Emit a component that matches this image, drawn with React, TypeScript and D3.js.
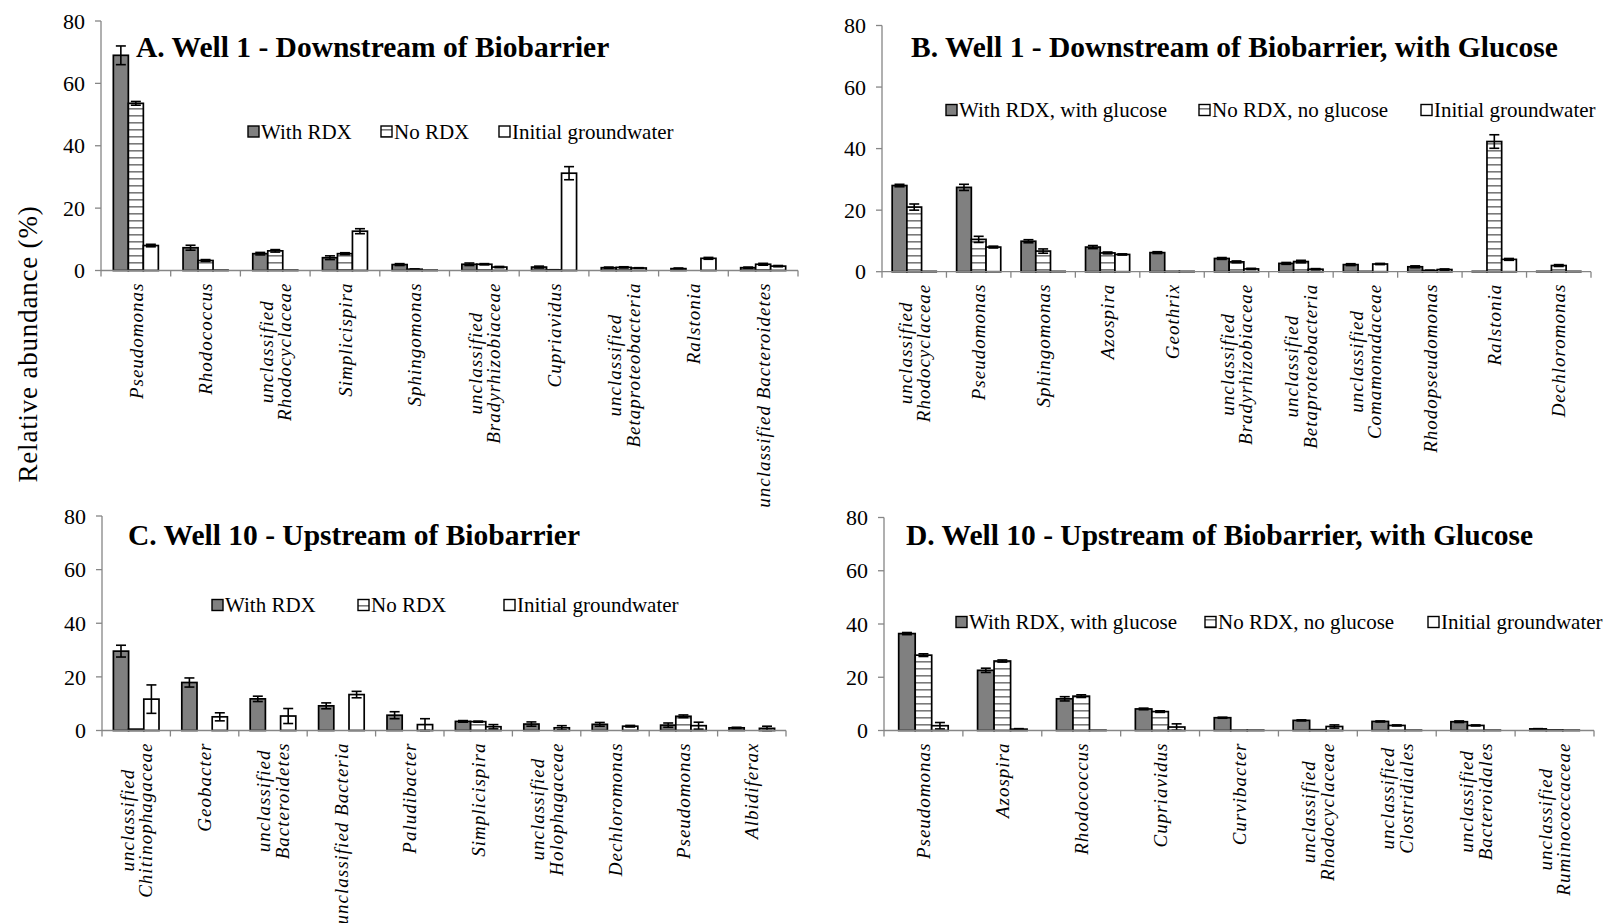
import React, { useEffect, useRef } from "react";
import * as d3 from "d3";

// ---------- DATA ----------
const seriesAC = ["With RDX", "No RDX", "Initial groundwater"];
const seriesBD = ["With RDX, with glucose", "No RDX, no glucose", "Initial groundwater"];

const catsA = [["Pseudomonas"], ["Rhodococcus"], ["unclassified", "Rhodocyclaceae"], ["Simplicispira"], ["Sphingomonas"], ["unclassified", "Bradyrhizobiaceae"], ["Cupriavidus"], ["unclassified", "Betaproteobacteria"], ["Ralstonia"], ["unclassified Bacteroidetes"]];
const withA = [69, 7.3, 5.4, 4.1, 1.9, 2.0, 1.1, 0.9, 0.6, 0.9];
const noA = [53.6, 3.2, 6.3, 5.4, 0.4, 2.0, 0.2, 1.0, 0, 2.0];
const initA = [8.0, 0.1, 0.1, 12.6, 0.1, 1.1, 31.2, 0.8, 3.9, 1.4];
const withErrA = [3, 0.8, 0.4, 0.6, 0.3, 0.4, 0.3, 0.2, 0.2, 0.2];
const noErrA = [0.6, 0.3, 0.4, 0.3, 0.1, 0.2, 0.05, 0.2, 0, 0.3];
const initErrA = [0.4, 0, 0, 0.8, 0, 0.2, 2.1, 0.1, 0.3, 0.2];

const catsB = [["unclassified", "Rhodocyclaceae"], ["Pseudomonas"], ["Sphingomonas"], ["Azospira"], ["Geothrix"], ["unclassified", "Bradyrhizobiaceae"], ["unclassified", "Betaproteobacteria"], ["unclassified", "Comamonadaceae"], ["Rhodopseudomonas"], ["Ralstonia"], ["Dechloromonas"]];
const withB = [28, 27.4, 9.9, 8.0, 6.2, 4.3, 2.7, 2.3, 1.6, 0.1, 0.1];
const noB = [21, 10.5, 6.7, 6.1, 0.1, 3.2, 3.3, 0.1, 0.4, 42.3, 2.0];
const initB = [0.1, 8.0, 0.1, 5.6, 0.1, 0.9, 0.8, 2.5, 0.7, 4.0, 0.1];
const withErrB = [0.4, 1.0, 0.5, 0.5, 0.3, 0.3, 0.3, 0.3, 0.3, 0, 0];
const noErrB = [1.0, 1.0, 0.7, 0.3, 0, 0.3, 0.4, 0, 0.1, 2.2, 0.3];
const initErrB = [0, 0.3, 0, 0.2, 0, 0.2, 0.2, 0.2, 0.2, 0.3, 0];

const catsC = [["unclassified", "Chitinophagaceae"], ["Geobacter"], ["unclassified", "Bacteroidetes"], ["unclassified Bacteria"], ["Paludibacter"], ["Simplicispira"], ["unclassified", "Holophagaceae"], ["Dechloromonas"], ["Pseudomonas"], ["Albidiferax"]];
const withC = [29.6, 17.9, 11.8, 9.2, 5.7, 3.4, 2.4, 2.3, 2.0, 1.0];
const noC = [0.5, 0, 0, 0, 0, 3.3, 0, 0, 5.3, 0];
const initC = [11.7, 5.1, 5.4, 13.4, 2.2, 1.4, 1.0, 1.6, 1.8, 0.8];
const withErrC = [2.2, 1.7, 1.0, 1.1, 1.3, 0.3, 0.8, 0.7, 0.8, 0.2];
const noErrC = [0, 0, 0, 0, 0, 0.2, 0, 0, 0.5, 0];
const initErrC = [5.3, 1.5, 2.8, 1.2, 2.2, 0.8, 0.8, 0.3, 1.3, 0.8];

const catsD = [["Pseudomonas"], ["Azospira"], ["Rhodococcus"], ["Cupriavidus"], ["Curvibacter"], ["unclassified", "Rhodocyclaceae"], ["unclassified", "Clostridiales"], ["unclassified", "Bacteroidales"], ["unclassified", "Ruminococcaceae"]];
const withD = [36.4, 22.6, 11.9, 8.1, 4.8, 3.8, 3.4, 3.3, 0.6];
const noD = [28.3, 26.1, 12.9, 7.1, 0.1, 0.3, 1.9, 1.9, 0.2];
const initD = [1.8, 0.5, 0.1, 1.3, 0.1, 1.5, 0.1, 0.1, 0.1];
const withErrD = [0.4, 0.8, 0.8, 0.3, 0.2, 0.2, 0.2, 0.3, 0.1];
const noErrD = [0.5, 0.4, 0.5, 0.3, 0, 0, 0.2, 0.2, 0];
const initErrD = [1.2, 0.2, 0, 1.2, 0, 0.6, 0, 0, 0];

const yTicks = [0, 20, 40, 60, 80];
const titles = [
  "A. Well 1 - Downstream of Biobarrier",
  "B. Well 1 - Downstream of Biobarrier, with Glucose",
  "C. Well 10 - Upstream of Biobarrier",
  "D. Well 10 - Upstream of Biobarrier, with Glucose",
];
const yTitle = "Relative abundance (%)";

// ---------- LAYOUT ----------
const W = 1609, H = 923;
const FONT = "'Liberation Serif', 'Times New Roman', serif";

type Panel = {
  title: string; cats: string[][]; vals: number[][]; errs: number[][]; series: string[];
  x0: number; x1: number; yZero: number; yTop: number; barW: number;
  titleX: number; titleY: number; legX: number[]; legY: number;
};

const panels: Panel[] = [
  { title: titles[0], cats: catsA, vals: [withA, noA, initA], errs: [withErrA, noErrA, initErrA], series: seriesAC,
    x0: 101, x1: 798, yZero: 270.5, yTop: 21, barW: 15, titleX: 136, titleY: 57, legX: [248, 381, 499], legY: 131.5 },
  { title: titles[1], cats: catsB, vals: [withB, noB, initB], errs: [withErrB, noErrB, initErrB], series: seriesBD,
    x0: 882, x1: 1591, yZero: 271.7, yTop: 25.5, barW: 14.7, titleX: 911, titleY: 57, legX: [946, 1199, 1421], legY: 110 },
  { title: titles[2], cats: catsC, vals: [withC, noC, initC], errs: [withErrC, noErrC, initErrC], series: seriesAC,
    x0: 102, x1: 786, yZero: 730.5, yTop: 516, barW: 15.2, titleX: 128, titleY: 545, legX: [212, 358, 504], legY: 605 },
  { title: titles[3], cats: catsD, vals: [withD, noD, initD], errs: [withErrD, noErrD, initErrD], series: seriesBD,
    x0: 884, x1: 1594, yZero: 730.5, yTop: 517.5, barW: 16.5, titleX: 906, titleY: 545, legX: [956, 1205, 1428], legY: 622 },
];

const fills = ["#808080", "url(#stripes)", "#ffffff"];
const AXIS = "#868686";

export default function App() {
  const ref = useRef<SVGSVGElement>(null);
  useEffect(() => {
    const svg = d3.select(ref.current);
    svg.selectAll("*").remove();
    const defs = svg.append("defs");
    const pat = defs.append("pattern").attr("id", "stripes").attr("patternUnits", "userSpaceOnUse")
      .attr("width", 8).attr("height", 7);
    pat.append("rect").attr("width", 8).attr("height", 7).attr("fill", "#fff");
    pat.append("rect").attr("y", 3).attr("width", 8).attr("height", 1.6).attr("fill", "#7a7a7a");

    panels.forEach((p) => {
      const g = svg.append("g");
      const y = d3.scaleLinear().domain([0, 80]).range([p.yZero, p.yTop]);
      const x = d3.scaleBand().domain(p.cats.map((_, i) => String(i))).range([p.x0, p.x1]).padding(0);
      const bw = p.barW;

      // bars
      p.vals.forEach((vals, s) => {
        vals.forEach((v, i) => {
          const cx = (x(String(i)) as number) + x.bandwidth() / 2;
          const bx = cx - 1.5 * bw + s * bw;
          g.append("rect").attr("x", bx).attr("y", y(v)).attr("width", bw).attr("height", Math.max(0, y(0) - y(v)))
            .attr("fill", fills[s]).attr("stroke", "#000").attr("stroke-width", 1.7);
        });
      });
      // error bars
      p.vals.forEach((vals, s) => {
        vals.forEach((v, i) => {
          const e = p.errs[s][i];
          if (!e) return;
          const cx = (x(String(i)) as number) + x.bandwidth() / 2 - bw + s * bw;
          const lo = Math.max(0, v - e), hi = v + e;
          g.append("line").attr("x1", cx).attr("x2", cx).attr("y1", y(lo)).attr("y2", y(hi)).attr("stroke", "#000").attr("stroke-width", 1.6);
          [lo, hi].forEach((t) => g.append("line").attr("x1", cx - 5).attr("x2", cx + 5).attr("y1", y(t)).attr("y2", y(t)).attr("stroke", "#000").attr("stroke-width", 1.6));
        });
      });

      // y axis
      g.append("line").attr("x1", p.x0).attr("x2", p.x0).attr("y1", y(0)).attr("y2", y(80)).attr("stroke", AXIS).attr("stroke-width", 1.3);
      yTicks.forEach((t) => {
        g.append("line").attr("x1", p.x0 - 6).attr("x2", p.x0).attr("y1", y(t)).attr("y2", y(t)).attr("stroke", AXIS).attr("stroke-width", 1.3);
        g.append("text").attr("x", p.x0 - 16).attr("y", y(t)).attr("dy", "0.35em").attr("text-anchor", "end")
          .attr("font-family", FONT).attr("font-size", 22).attr("fill", "#000").text(String(t));
      });
      // x axis
      g.append("line").attr("x1", p.x0).attr("x2", p.x1).attr("y1", y(0)).attr("y2", y(0)).attr("stroke", AXIS).attr("stroke-width", 1.3);
      for (let i = 0; i <= p.cats.length; i++) {
        const tx = p.x0 + i * x.bandwidth();
        g.append("line").attr("x1", tx).attr("x2", tx).attr("y1", y(0)).attr("y2", y(0) + 6).attr("stroke", AXIS).attr("stroke-width", 1.3);
      }
      // x labels
      p.cats.forEach((lines, i) => {
        const cx = (x(String(i)) as number) + x.bandwidth() / 2;
        const lg = g.append("g");
        const texts = lines.map((ln) => lg.append("text").attr("font-family", FONT).attr("font-style", "italic")
          .attr("font-size", 19).attr("letter-spacing", 1).attr("fill", "#000").text(ln));
        const lens = texts.map((t) => (t.node() as SVGTextElement).getComputedTextLength());
        const maxL = Math.max(...lens);
        const lh = 18.5;
        const n = lines.length;
        texts.forEach((t, k) => {
          const off = (k - (n - 1) / 2) * lh;
          const tx = cx + off;
          const ty = y(0) + 12 + maxL / 2;
          t.attr("text-anchor", "middle").attr("dy", "0.35em")
            .attr("transform", `translate(${tx},${ty}) rotate(-90)`);
        });
      });

      // title
      g.append("text").attr("x", p.titleX).attr("y", p.titleY).attr("font-family", FONT).attr("font-weight", "bold")
        .attr("font-size", 29.5).attr("fill", "#000").text(p.title);

      // legend
      p.series.forEach((s, k) => {
        g.append("rect").attr("x", p.legX[k]).attr("y", p.legY - 5.5).attr("width", 11).attr("height", 11)
          .attr("fill", fills[k]).attr("stroke", "#000").attr("stroke-width", 1.4);
        g.append("text").attr("x", p.legX[k] + 13).attr("y", p.legY).attr("dy", "0.35em").attr("font-family", FONT)
          .attr("font-size", 21).attr("fill", "#000").text(s);
      });
    });

    svg.append("text").attr("transform", `translate(28,344) rotate(-90)`).attr("text-anchor", "middle").attr("dy", "0.35em")
      .attr("font-family", FONT).attr("font-size", 27).attr("letter-spacing", 0.8).attr("fill", "#000").text(yTitle);
  }, []);

  return (
    <svg ref={ref} width={W} height={H} style={{ position: "absolute", left: 0, top: 0, background: "#fff" }} />
  );
}
